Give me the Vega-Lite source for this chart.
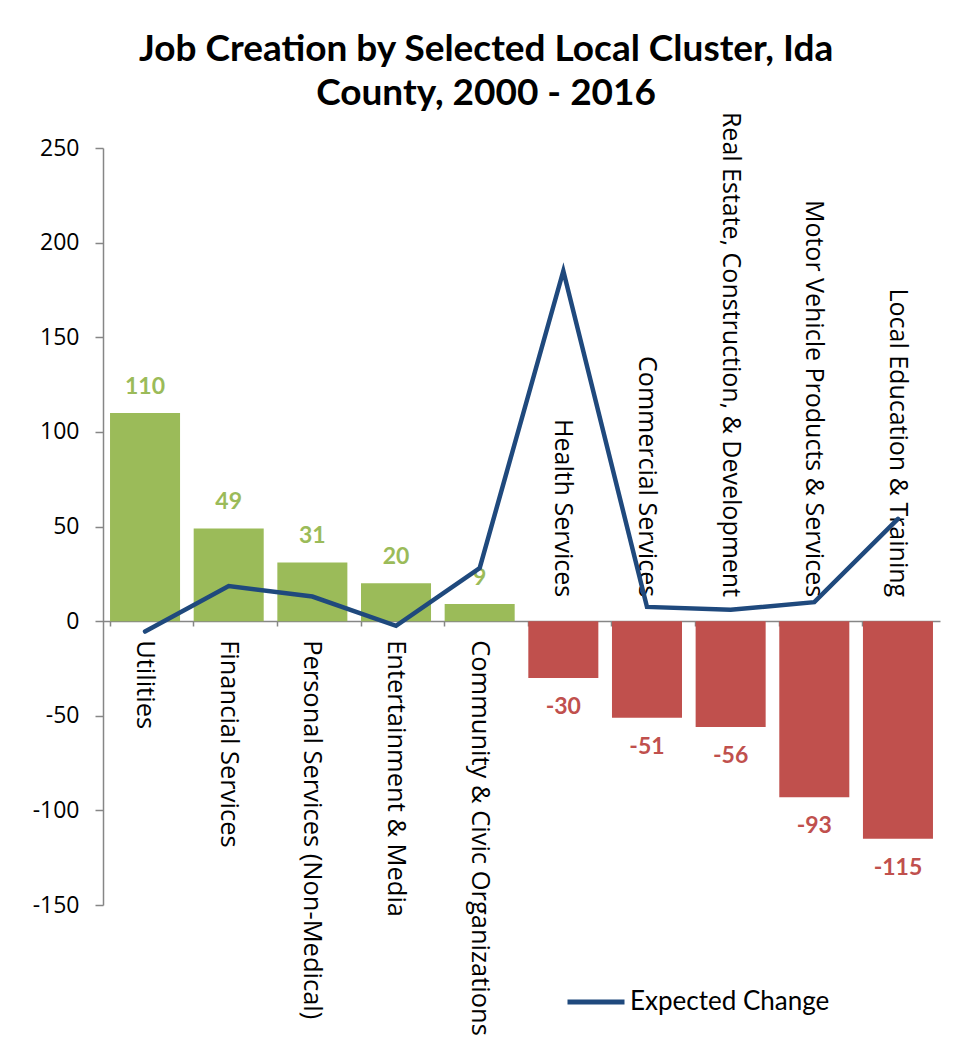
{
  "$schema": "https://vega.github.io/schema/vega-lite/v6.json",
  "width": 837,
  "height": 757,
  "autosize": {"type": "none"},
  "padding": {"left": 103, "top": 148, "right": 16, "bottom": 140},
  "background": "white",
  "config": {"view": {"stroke": null}},
  "title": {
    "text": ["Job Creation by Selected Local Cluster, Ida", "County, 2000 - 2016"],
    "font": "Lato",
    "fontSize": 37,
    "fontWeight": "bold",
    "color": "#000000",
    "anchor": "middle",
    "frame": "bounds",
    "lineHeight": 44,
    "offset": -1
  },
  "data": {
    "values": [
      {"cluster": "Utilities", "jobs": 110, "expected": -5.5},
      {"cluster": "Financial Services", "jobs": 49, "expected": 18.5},
      {"cluster": "Personal Services (Non-Medical)", "jobs": 31, "expected": 13},
      {"cluster": "Entertainment & Media", "jobs": 20, "expected": -2.5},
      {"cluster": "Community & Civic Organizations", "jobs": 9, "expected": 28},
      {"cluster": "Health Services", "jobs": -30, "expected": 185},
      {"cluster": "Commercial Services", "jobs": -51, "expected": 7.5},
      {"cluster": "Real Estate, Construction, & Development", "jobs": -56, "expected": 6},
      {"cluster": "Motor Vehicle Products & Services", "jobs": -93, "expected": 10},
      {"cluster": "Local Education & Training", "jobs": -115, "expected": 54}
    ]
  },
  "encoding": {
    "x": {
      "field": "cluster",
      "type": "nominal",
      "sort": null,
      "scale": {"paddingInner": 0.163, "paddingOuter": 0.084},
      "axis": {
        "title": null,
        "labels": false,
        "offset": -284,
        "domainColor": "#868686",
        "domainWidth": 1.5,
        "tickColor": "#868686",
        "tickSize": 5,
        "tickWidth": 1.5,
        "bandPosition": 0
      }
    }
  },
  "layer": [
    {
      "mark": {"type": "bar"},
      "encoding": {
        "y": {
          "field": "jobs",
          "type": "quantitative",
          "scale": {"domain": [-150, 250], "nice": false},
          "axis": {
            "title": null,
            "values": [-150, -100, -50, 0, 50, 100, 150, 200, 250],
            "labelExpr": "'' + datum.value",
            "grid": false,
            "domainColor": "#868686",
            "domainWidth": 1.5,
            "tickColor": "#868686",
            "tickSize": 8,
            "tickWidth": 1.5,
            "labelFont": "Open Sans",
            "labelFontSize": 23,
            "labelColor": "#000000",
            "labelPadding": 16
          }
        },
        "color": {"condition": {"test": "datum.jobs > 0", "value": "#9BBB59"}, "value": "#C0504D"}
      }
    },
    {
      "transform": [{"filter": "datum.jobs > 0"}],
      "mark": {"type": "text", "baseline": "bottom", "dy": -14, "font": "Lato", "fontSize": 23, "fontWeight": "bold", "color": "#9BBB59"},
      "encoding": {
        "y": {"field": "jobs", "type": "quantitative"},
        "text": {"field": "jobs", "type": "nominal"}
      }
    },
    {
      "transform": [{"filter": "datum.jobs < 0"}],
      "mark": {"type": "text", "baseline": "top", "dy": 18, "font": "Lato", "fontSize": 23, "fontWeight": "bold", "color": "#C0504D"},
      "encoding": {
        "y": {"field": "jobs", "type": "quantitative"},
        "text": {"field": "jobs", "type": "nominal"}
      }
    },
    {
      "transform": [{"filter": "datum.jobs > 0"}],
      "mark": {"type": "text", "angle": 90, "align": "left", "baseline": "middle", "dx": 19, "font": "Open Sans", "fontSize": 25.5, "color": "#000000"},
      "encoding": {
        "y": {"datum": 0, "type": "quantitative"},
        "text": {"field": "cluster", "type": "nominal"}
      }
    },
    {
      "transform": [{"filter": "datum.jobs < 0"}],
      "mark": {"type": "text", "angle": 90, "align": "right", "baseline": "middle", "dx": -24, "font": "Open Sans", "fontSize": 25, "color": "#000000"},
      "encoding": {
        "y": {"datum": 0, "type": "quantitative"},
        "text": {"field": "cluster", "type": "nominal"}
      }
    },
    {
      "mark": {"type": "line", "strokeWidth": 4.5, "strokeCap": "round", "strokeJoin": "miter"},
      "encoding": {
        "y": {"field": "expected", "type": "quantitative"},
        "color": {
          "datum": "Expected Change",
          "type": "nominal",
          "scale": {"range": ["#1F497D"]},
          "legend": {
            "title": null,
            "orient": "none",
            "legendX": 462,
            "legendY": 823,
            "symbolType": "stroke",
            "symbolStrokeWidth": 5,
            "symbolSize": 3249,
            "labelFont": "Lato",
            "labelFontSize": 26,
            "labelLimit": 400,
            "labelColor": "#000000",
            "labelOffset": 3
          }
        }
      }
    }
  ]
}
